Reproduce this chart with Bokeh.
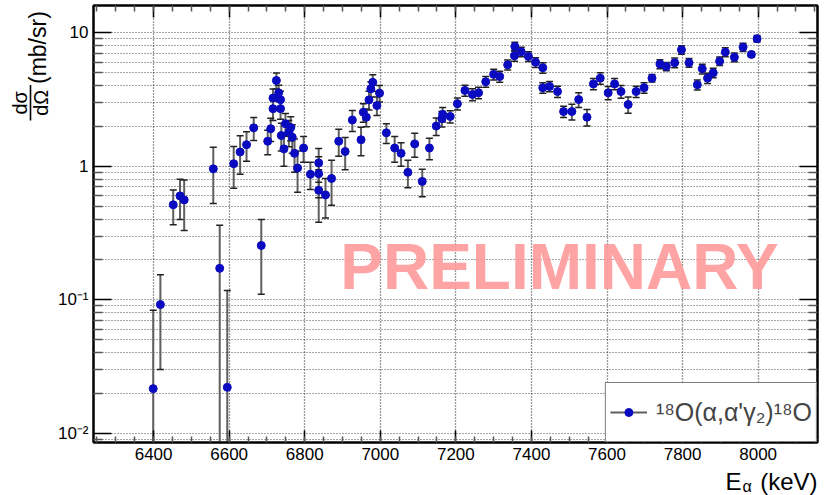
import math
from bokeh.plotting import figure
from bokeh.layouts import row, column
from bokeh.core.properties import value
from bokeh.models import (ColumnDataSource, Legend, LegendItem, LinearAxis, LogAxis,
                          FixedTicker, Range1d, Label)
from bokeh.embed import file_html
from bokeh.resources import INLINE

# ---- data ----
energy_kev = [6399, 6418, 6452, 6470, 6481, 6558, 6575, 6595, 6612, 6629, 6646, 6665, 6685,
              6702, 6710, 6716, 6716, 6725, 6731, 6736, 6736, 6738, 6745, 6749, 6758, 6763,
              6767, 6773, 6781, 6797, 6815, 6837, 6837, 6837, 6855, 6871, 6890, 6907, 6926,
              6949, 6955, 6963, 6970, 6975, 6980, 6991, 6998, 7016, 7038, 7055, 7073, 7091,
              7111, 7130, 7148, 7163, 7165, 7185, 7204, 7224, 7244, 7260, 7279, 7300, 7316,
              7337, 7355, 7356, 7373, 7392, 7411, 7430, 7430, 7448, 7469, 7485, 7507, 7525,
              7547, 7564, 7582, 7603, 7620, 7637, 7656, 7677, 7698, 7719, 7740, 7757, 7779,
              7797, 7817, 7839, 7852, 7866, 7881, 7898, 7913, 7937, 7960, 7982, 7997]
dsigma = [0.0216, 0.092, 0.515, 0.60, 0.56, 0.957, 0.172, 0.0221, 1.045, 1.28, 1.45, 1.94, 0.255,
          1.54, 1.91, 2.70, 3.24, 4.39, 3.55, 3.15, 2.70, 1.70, 1.35, 2.08, 1.80, 1.95,
          1.65, 1.25, 0.97, 1.37, 0.87, 1.06, 0.88, 0.66, 0.61, 0.81, 1.54, 1.29, 2.22,
          1.58, 2.54, 2.33, 3.14, 3.80, 4.25, 2.85, 3.53, 1.78, 1.37, 1.25, 0.90, 1.47,
          0.77, 1.37, 2.00, 2.27, 2.45, 2.36, 2.94, 3.70, 3.45, 3.55, 4.30, 4.88, 4.70,
          5.75, 6.72, 7.89, 7.20, 6.65, 6.00, 5.47, 3.87, 3.96, 3.63, 2.57, 2.57, 3.16,
          2.33, 4.14, 4.57, 3.55, 4.14, 3.63, 2.90, 3.63, 3.87, 4.57, 5.83, 5.59, 5.96,
          7.45, 5.96, 4.08, 5.37, 4.57, 5.01, 6.13, 7.16, 6.56, 7.80, 6.88, 9.02]
dsigma_err = [0.062, 0.062, 0.15, 0.20, 0.23, 0.43, 0.19, 0.095, 0.36, 0.41, 0.36, 0.38, 0.145,
              0.32, 0.38, 0.50, 0.55, 0.60, 0.50, 0.50, 0.45, 0.40, 0.35, 0.40, 0.40, 0.40,
              0.40, 0.35, 0.33, 0.30, 0.20, 0.30, 0.30, 0.28, 0.20, 0.30, 0.35, 0.35, 0.40,
              0.38, 0.40, 0.35, 0.50, 0.50, 0.60, 0.45, 0.50, 0.30, 0.30, 0.25, 0.21, 0.30,
              0.18, 0.25, 0.30, 0.30, 0.30, 0.25, 0.30, 0.35, 0.35, 0.35, 0.40, 0.45, 0.45,
              0.50, 0.60, 0.60, 0.60, 0.55, 0.50, 0.50, 0.35, 0.35, 0.35, 0.25, 0.35, 0.40,
              0.33, 0.40, 0.45, 0.40, 0.40, 0.40, 0.40, 0.35, 0.35, 0.30, 0.45, 0.40, 0.50,
              0.55, 0.45, 0.35, 0.45, 0.40, 0.40, 0.45, 0.55, 0.50, 0.55, 0.30, 0.50]
x_major_ticks = [6400, 6600, 6800, 7000, 7200, 7400, 7600, 7800, 8000]
y_major_ticks = [0.01, 0.1, 1, 10]
y_tick_labels = {0.01: "10\u207b\u00b2", 0.1: "10\u207b\u00b9", 1: "1", 10: "10"}
legend_label = "\u00b9\u2078O(\u03b1,\u03b1'\u03b3\u2082)\u00b9\u2078O"
y_title_num = "d\u03c3"
y_title_den = "d\u03a9"
y_title_unit = "(mb/sr)"
x_title_main = "E"
x_title_sub = "\u03b1"
x_title_unit = "(keV)"

FONT = "Liberation Sans"
BLUE = "#0a0ac0"

lo = [v - e if v - e > 0 else 1e-5 for v, e in zip(dsigma, dsigma_err)]
hi = [v + e for v, e in zip(dsigma, dsigma_err)]
src = ColumnDataSource(dict(e=energy_kev, v=dsigma, lo=lo, hi=hi))

YSTRIP = 52      # width of the y-title strip
XSTRIP = 28      # height of the x-title strip
PW, PH = 825 - YSTRIP, 495 - XSTRIP

# ---- main plot ----
p = figure(width=PW, height=PH, y_axis_type="log", title_location=None,
           x_range=Range1d(6241, 8157), y_range=Range1d(0.00853, 16.0),
           output_backend="svg", toolbar_location=None,
           min_border_left=93 - YSTRIP, min_border_right=8, min_border_top=5,
           min_border_bottom=PH - 442,
           background_fill_color="white", border_fill_color="white")
p.outline_line_color = "black"
p.outline_line_width = 2

xt = FixedTicker(ticks=x_major_ticks,
                 minor_ticks=[x_major_ticks[0] - 200 + 50 * k for k in range(0, 40)])
minor_y = [m * 10.0 ** d for d in range(-3, 2) for m in range(2, 10)]
yt = FixedTicker(ticks=y_major_ticks, minor_ticks=minor_y)

p.xaxis.ticker = xt
p.yaxis.ticker = yt
p.yaxis.major_label_overrides = y_tick_labels


def style_axis(ax, major_len, minor_len, show_labels=True):
    ax.axis_line_color = "black"
    ax.axis_line_width = 2
    ax.major_tick_in = major_len
    ax.major_tick_out = 0
    ax.minor_tick_in = minor_len
    ax.minor_tick_out = 0
    ax.major_tick_line_color = "black"
    ax.major_tick_line_width = 1.5
    ax.minor_tick_line_color = "#555555"
    ax.minor_tick_line_width = 1.5
    ax.major_label_text_font = FONT
    if show_labels:
        ax.major_label_text_font_size = "17px"
        ax.major_label_text_color = "black"
    else:
        ax.major_label_text_font_size = "1px"
        ax.major_label_text_alpha = 0.0
        ax.major_label_standoff = 0


style_axis(p.xaxis[0], 12, 6)
p.xaxis.major_label_standoff = 5
style_axis(p.yaxis[0], 18, 9)
p.yaxis.major_label_standoff = 5

top_ax = LinearAxis(ticker=xt)
style_axis(top_ax, 12, 6, show_labels=False)
p.add_layout(top_ax, "above")
right_ax = LogAxis(ticker=yt)
style_axis(right_ax, 18, 9, show_labels=False)
p.add_layout(right_ax, "right")

p.xgrid.grid_line_color = "black"
p.xgrid.grid_line_alpha = 0.8
p.xgrid.grid_line_dash = "1 2"
p.xgrid.grid_line_width = 1.3
p.ygrid.grid_line_color = "black"
p.ygrid.grid_line_alpha = 0.7
p.ygrid.grid_line_dash = "1 2"
p.ygrid.grid_line_width = 1.2
p.ygrid.minor_grid_line_color = "black"
p.ygrid.minor_grid_line_alpha = 0.7
p.ygrid.minor_grid_line_dash = "1 2"
p.ygrid.minor_grid_line_width = 1.2

seg = p.segment(x0="e", y0="lo", x1="e", y1="hi", source=src, line_color="#5f5f5f", line_width=2)
p.scatter(x="e", y="hi", source=src, marker="dash", size=7, line_color="#222222", line_width=1.5)
p.scatter(x="e", y="lo", source=src, marker="dash", size=7, line_color="#222222", line_width=1.5)
dots = p.scatter(x="e", y="v", source=src, size=8, fill_color=BLUE, line_color=BLUE)

legend = Legend(items=[LegendItem(label=legend_label, renderers=[seg, dots])],
                location="bottom_right", margin=0, padding=4, spacing=0,
                glyph_width=37, glyph_height=20, label_height=50, label_standoff=9,
                label_text_font=FONT, label_text_font_size="25px",
                border_line_color="black", border_line_width=1.5,
                background_fill_color="white", background_fill_alpha=1.0)
p.add_layout(legend)

# PRELIMINARY watermark (inside the frame)
p.add_layout(Label(x=466, y=176, x_units="screen", y_units="screen", text="PRELIMINARY",
                   text_font=FONT, text_font_size="64px", text_font_style="bold",
                   text_color="#ff9a9a", text_alpha=0.9, text_align="center",
                   text_baseline="alphabetic"))

# ---- y axis title strip (left) ----
ylab = figure(width=YSTRIP, height=PH, x_range=Range1d(0, YSTRIP), y_range=Range1d(0, PH),
              x_axis_location=None, y_axis_location=None, title_location=None, min_border=0,
              output_backend="svg", toolbar_location=None,
              outline_line_color=None, background_fill_color="white",
              border_fill_color="white")
ylab.grid.visible = False
rot = math.pi / 2
ylab.text(x=[37.5], y=[PH - 45], text=[y_title_unit], angle=rot,
          text_font=value(FONT), text_font_size=value("23px"),
          text_align=value("center"), text_baseline=value("middle"), text_color="black")
ylab.text(x=[19], y=[PH - 104], text=[y_title_num], angle=rot,
          text_font=value(FONT), text_font_size=value("20px"),
          text_align=value("center"), text_baseline=value("middle"), text_color="black")
ylab.text(x=[40.5], y=[PH - 104], text=[y_title_den], angle=rot,
          text_font=value(FONT), text_font_size=value("20px"),
          text_align=value("center"), text_baseline=value("middle"), text_color="black")
ylab.segment(x0=[30], y0=[PH - 85], x1=[30], y1=[PH - 123], line_color="black",
             line_width=1.6)

# ---- x axis title strip (bottom) ----
xlab = figure(width=825, height=XSTRIP, x_range=Range1d(0, 825), y_range=Range1d(0, XSTRIP),
              x_axis_location=None, y_axis_location=None, title_location=None, min_border=0,
              output_backend="svg", toolbar_location=None,
              outline_line_color=None, background_fill_color="white",
              border_fill_color="white")
xlab.grid.visible = False
xlab.text(x=[725], y=[14], text=[x_title_main], text_font=value(FONT),
          text_font_size=value("24px"), text_align=value("left"),
          text_baseline=value("middle"), text_color="black")
xlab.text(x=[742], y=[9.5], text=[x_title_sub], text_font=value(FONT),
          text_font_size=value("16px"), text_align=value("left"),
          text_baseline=value("middle"), text_color="black")
xlab.text(x=[817], y=[14], text=[x_title_unit], text_font=value(FONT),
          text_font_size=value("24px"), text_align=value("right"),
          text_baseline=value("middle"), text_color="black")

page = column(row(ylab, p, spacing=0), xlab, spacing=0)
open("out.html", "w").write(file_html(page, INLINE))
